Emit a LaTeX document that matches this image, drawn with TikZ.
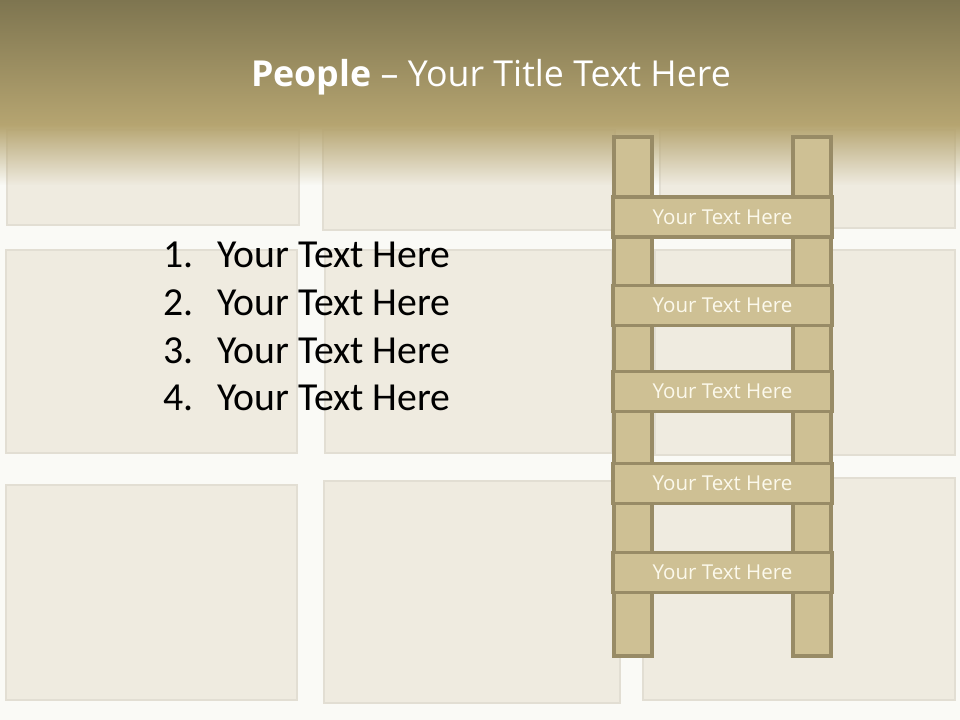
\documentclass[tikz,border=0pt]{standalone}
\usepackage{fontspec}
\setmainfont{Open Sans}
\newfontfamily\listfont{Carlito}
\usetikzlibrary{fadings}
\definecolor{bartop}{HTML}{7E7550}
\definecolor{barbot}{HTML}{B6A571}
\definecolor{paper}{HTML}{EFEBE0}
\definecolor{paperedge}{HTML}{E2DED3}
\definecolor{backdrop}{HTML}{FAFAF6}
\definecolor{woodfill}{HTML}{CEC094}
\definecolor{woodline}{HTML}{988B66}
\definecolor{rungtext}{HTML}{FCF9EC}

\begin{document}
\begin{tikzpicture}[x=0.75pt, y=-0.75pt,
  card/.style={fill=paper, draw=paperedge, line width=1pt},
  rail/.style={fill=woodfill, draw=woodline, line width=2.3pt},
  rung/.style={rectangle, fill=woodfill, draw=woodline, line width=2.3pt,
               minimum width=164.25pt, minimum height=30pt, inner sep=0pt,
               text=rungtext, font=\fontsize{15.4}{18}\selectfont},
  item/.style={anchor=base west, inner sep=0pt, text=black,
               font=\listfont\fontsize{29.8}{34}\selectfont},
]
\useasboundingbox (0,0) rectangle (960,720);
\fill[backdrop] (0,0) rectangle (960,720);

% paper cards behind
\filldraw[card] (7,130) rectangle (299,225);
\filldraw[card] (323,130) rectangle (615,230);
\filldraw[card] (660,130) rectangle (955,228);
\filldraw[card] (6,250) rectangle (297,453);
\filldraw[card] (325,250) rectangle (612,453);
\filldraw[card] (655,250) rectangle (955,455);
\filldraw[card] (6,485) rectangle (297,700);
\filldraw[card] (324,481) rectangle (620,703);
\filldraw[card] (643,478) rectangle (955,700);

% title bar
\shade[top color=bartop, bottom color=barbot] (0,0) rectangle (960,126);
\fill[barbot, path fading=south] (0,125) rectangle (960,185);
\node[text=white, font=\fontsize{26.8}{32}\selectfont] (title) at (491,77.5)
  {\textbf{People} -- Your Title Text Here};

% numbered list
\node[item] (item1) at (163,268) {\makebox[40.5pt][l]{1.}Your Text Here};
\node[item] (item2) at (163,315.5) {\makebox[40.5pt][l]{2.}Your Text Here};
\node[item] (item3) at (163,363) {\makebox[40.5pt][l]{3.}Your Text Here};
\node[item] (item4) at (163,410.5) {\makebox[40.5pt][l]{4.}Your Text Here};

% ladder
\filldraw[rail] (614,137) rectangle (652,656);
\filldraw[rail] (793,137) rectangle (831,656);
\node[rung] (rung1) at (722.5,217) {Your Text Here};
\node[rung] (rung2) at (722.5,305.5) {Your Text Here};
\node[rung] (rung3) at (722.5,391.5) {Your Text Here};
\node[rung] (rung4) at (722.5,483.5) {Your Text Here};
\node[rung] (rung5) at (722.5,572.5) {Your Text Here};
\end{tikzpicture}
\end{document}
